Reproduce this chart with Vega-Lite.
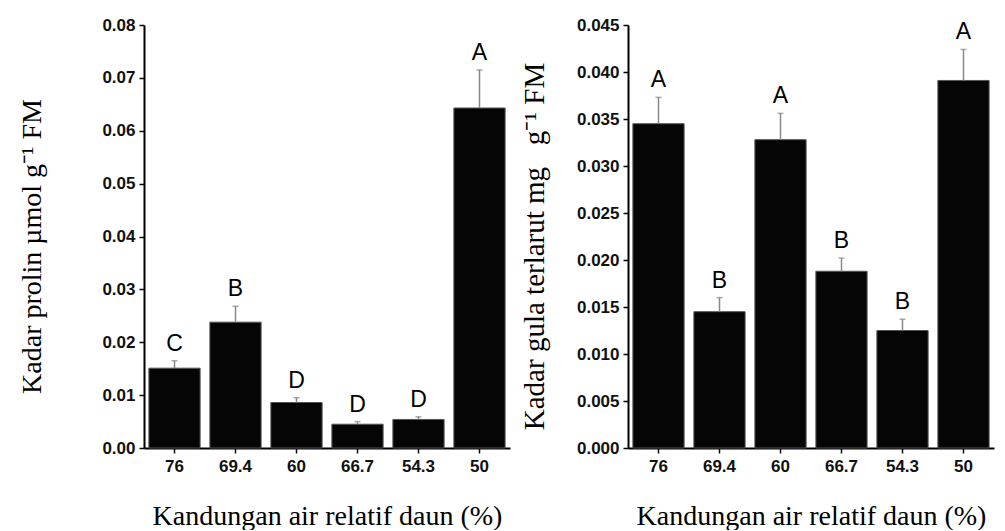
{
  "$schema": "https://vega.github.io/schema/vega-lite/v6.json",
  "padding": {"left": 17, "top": 16, "right": 5, "bottom": 0},
  "background": "white",
  "spacing": 118,
  "bounds": "flush",
  "config": {
    "view": {"stroke": null},
    "axis": {
      "domainColor": "black", "domainWidth": 2, "tickColor": "black", "tickWidth": 1.5,
      "labelFont": "Liberation Sans", "labelFontSize": 17, "labelFontWeight": "bold", "labelColor": "#111",
      "titleFont": "Liberation Serif", "titleFontSize": 28, "titleFontWeight": "normal", "titleColor": "black",
      "grid": false
    }
  },
  "hconcat": [
    {
      "width": 366, "height": 423,
      "data": {"values": [
        {"x": "76", "mean": 0.0151, "top": 0.0165, "letter": "C"},
        {"x": "69.4", "mean": 0.0238, "top": 0.0268, "letter": "B"},
        {"x": "60", "mean": 0.0086, "top": 0.0095, "letter": "D"},
        {"x": "66.7", "mean": 0.0045, "top": 0.0050, "letter": "D"},
        {"x": "54.3", "mean": 0.0054, "top": 0.0059, "letter": "D"},
        {"x": "50", "mean": 0.0643, "top": 0.0715, "letter": "A"}
      ]},
      "encoding": {
        "x": {"field": "x", "type": "nominal", "sort": null,
          "scale": {"domain": ["76", "69.4", "60", "66.7", "54.3", "50"], "paddingInner": 0.16, "paddingOuter": 0.08},
          "axis": {"title": "Kandungan air relatif daun (%)", "labelAngle": 0, "tickSize": 5, "labelPadding": 5, "titleY": 76, "titleBaseline": "alphabetic"}}
      },
      "layer": [
        {"mark": {"type": "bar", "color": "#050505", "stroke": "#555", "strokeWidth": 1},
          "encoding": {"y": {"field": "mean", "type": "quantitative", "title": "Kadar prolin µmol g⁻¹ FM",
            "scale": {"domain": [0, 0.08], "nice": false},
            "axis": {
              "values": [0, 0.005, 0.01, 0.015, 0.02, 0.025, 0.03, 0.035, 0.04, 0.045, 0.05, 0.055, 0.06, 0.065, 0.07, 0.075, 0.08],
              "labelExpr": "abs(datum.value*100 - round(datum.value*100)) > 0.1 ? '' : format(datum.value, '.2f')",
              "tickSize": {"condition": {"test": "abs(datum.value*100 - round(datum.value*100)) > 0.1", "value": 3}, "value": 5},
              "labelPadding": 4, "titleX": -112, "titleY": 221, "titleAngle": -90, "titleBaseline": "middle", "titleAlign": "center"}}}},
        {"mark": {"type": "rule", "color": "#888", "strokeWidth": 1.5},
          "encoding": {"y": {"field": "mean", "type": "quantitative", "title": "Kadar prolin µmol g⁻¹ FM"}, "y2": {"field": "top"}}},
        {"mark": {"type": "tick", "color": "#888", "thickness": 1.5, "size": 6},
          "encoding": {"y": {"field": "top", "type": "quantitative", "title": "Kadar prolin µmol g⁻¹ FM"}}},
        {"mark": {"type": "text", "baseline": "bottom", "dy": -5, "fontSize": 23, "font": "Liberation Sans", "color": "black"},
          "encoding": {"y": {"field": "top", "type": "quantitative", "title": "Kadar prolin µmol g⁻¹ FM"}, "text": {"field": "letter"}}}
      ]
    },
    {
      "width": 366, "height": 423,
      "data": {"values": [
        {"x": "76", "mean": 0.0345, "top": 0.0373, "letter": "A"},
        {"x": "69.4", "mean": 0.0145, "top": 0.0160, "letter": "B"},
        {"x": "60", "mean": 0.0328, "top": 0.0356, "letter": "A"},
        {"x": "66.7", "mean": 0.0188, "top": 0.0202, "letter": "B"},
        {"x": "54.3", "mean": 0.0125, "top": 0.0137, "letter": "B"},
        {"x": "50", "mean": 0.0391, "top": 0.0424, "letter": "A"}
      ]},
      "encoding": {
        "x": {"field": "x", "type": "nominal", "sort": null,
          "scale": {"domain": ["76", "69.4", "60", "66.7", "54.3", "50"], "paddingInner": 0.16, "paddingOuter": 0.08},
          "axis": {"title": "Kandungan air relatif daun (%)", "labelAngle": 0, "tickSize": 5, "labelPadding": 5, "titleY": 76, "titleBaseline": "alphabetic"}}
      },
      "layer": [
        {"mark": {"type": "bar", "color": "#050505", "stroke": "#555", "strokeWidth": 1},
          "encoding": {"y": {"field": "mean", "type": "quantitative", "title": "Kadar gula terlarut mg\u00a0\u00a0\u00a0g⁻¹ FM",
            "scale": {"domain": [0, 0.045], "nice": false},
            "axis": {
              "values": [0, 0.0025, 0.005, 0.0075, 0.01, 0.0125, 0.015, 0.0175, 0.02, 0.0225, 0.025, 0.0275, 0.03, 0.0325, 0.035, 0.0375, 0.04, 0.0425, 0.045],
              "labelExpr": "abs(datum.value*200 - round(datum.value*200)) > 0.1 ? '' : format(datum.value, '.3f')",
              "tickSize": {"condition": {"test": "abs(datum.value*200 - round(datum.value*200)) > 0.1", "value": 3}, "value": 5},
              "labelPadding": 4, "titleX": -94, "titleY": 221, "titleAngle": -90, "titleBaseline": "middle", "titleAlign": "center", "titleFontSize": 29}}}},
        {"mark": {"type": "rule", "color": "#888", "strokeWidth": 1.5},
          "encoding": {"y": {"field": "mean", "type": "quantitative", "title": "Kadar gula terlarut mg\u00a0\u00a0\u00a0g⁻¹ FM"}, "y2": {"field": "top"}}},
        {"mark": {"type": "tick", "color": "#888", "thickness": 1.5, "size": 6},
          "encoding": {"y": {"field": "top", "type": "quantitative", "title": "Kadar gula terlarut mg\u00a0\u00a0\u00a0g⁻¹ FM"}}},
        {"mark": {"type": "text", "baseline": "bottom", "dy": -5, "fontSize": 23, "font": "Liberation Sans", "color": "black"},
          "encoding": {"y": {"field": "top", "type": "quantitative", "title": "Kadar gula terlarut mg\u00a0\u00a0\u00a0g⁻¹ FM"}, "text": {"field": "letter"}}}
      ]
    }
  ]
}
